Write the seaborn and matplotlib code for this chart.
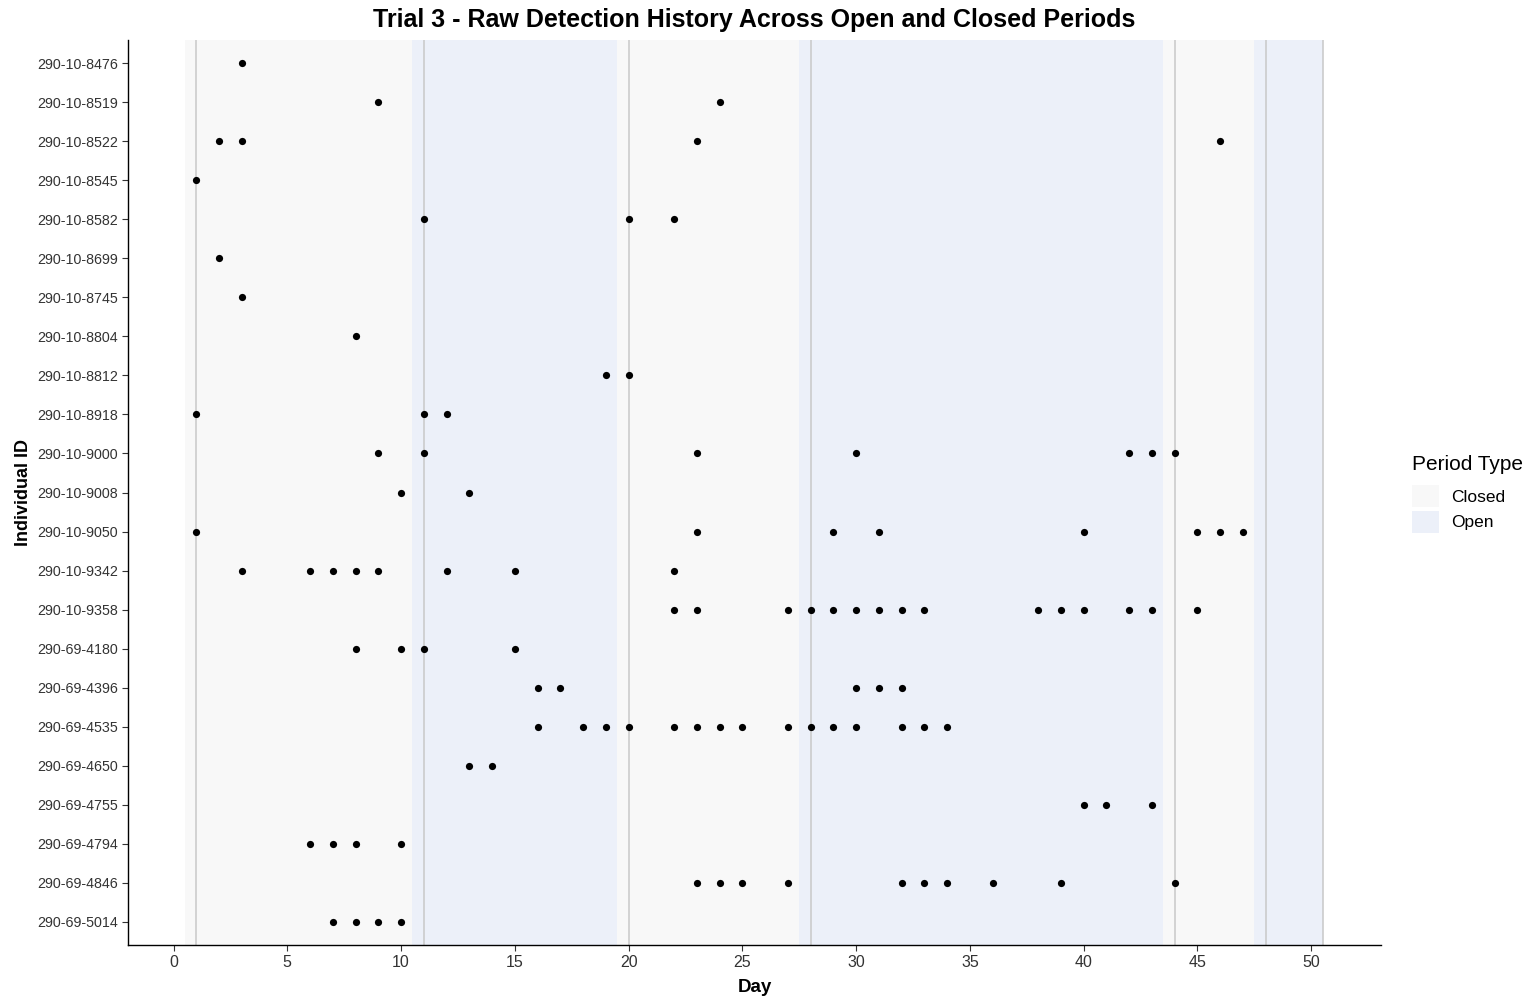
import numpy as np
import pandas as pd
import matplotlib
matplotlib.use("Agg")
import matplotlib.pyplot as plt
from matplotlib.patches import Patch
import seaborn as sns

# individuals, top to bottom
ids = ["290-10-8476", "290-10-8519", "290-10-8522", "290-10-8545", "290-10-8582",
       "290-10-8699", "290-10-8745", "290-10-8804", "290-10-8812", "290-10-8918",
       "290-10-9000", "290-10-9008", "290-10-9050", "290-10-9342", "290-10-9358",
       "290-69-4180", "290-69-4396", "290-69-4535", "290-69-4650", "290-69-4755",
       "290-69-4794", "290-69-4846", "290-69-5014"]

# detection days for each individual
days = [
    [3],
    [9, 24],
    [2, 3, 23, 46],
    [1],
    [11, 20, 22],
    [2],
    [3],
    [8],
    [19, 20],
    [1, 11, 12],
    [9, 11, 23, 30, 42, 43, 44],
    [10, 13],
    [1, 23, 29, 31, 40, 45, 46, 47],
    [3, 6, 7, 8, 9, 12, 15, 22],
    [22, 23, 27, 28, 29, 30, 31, 32, 33, 38, 39, 40, 42, 43, 45],
    [8, 10, 11, 15],
    [16, 17, 30, 31, 32],
    [16, 18, 19, 20, 22, 23, 24, 25, 27, 28, 29, 30, 32, 33, 34],
    [13, 14],
    [40, 41, 43],
    [6, 7, 8, 10],
    [23, 24, 25, 27, 32, 33, 34, 36, 39, 44],
    [7, 8, 9, 10],
]

# periods
period_type = ["Closed", "Open", "Closed", "Open", "Closed", "Open"]
period_start = [0.5, 10.5, 19.5, 27.5, 43.5, 47.5]
period_end = [10.5, 19.5, 27.5, 43.5, 47.5, 50.5]
period_lines = [1, 11, 20, 28, 44, 48, 50.5]

colors = {"Closed": "#f8f8f8", "Open": "#ecf0f9"}

rows = []
for i, d in zip(ids, days):
    for x in d:
        rows.append({"id": i, "day": x})
df = pd.DataFrame(rows)

sns.set_style("white")
plt.rcParams["font.family"] = ["Liberation Sans", "DejaVu Sans"]
plt.rcParams["text.color"] = "black"
plt.rcParams["axes.labelcolor"] = "black"

fig = plt.figure(figsize=(15.28, 9.98), dpi=100)
ax = fig.add_axes([128 / 1528, 1 - 945 / 998, (1381 - 128) / 1528, (945 - 40) / 998])

for t, s, e in zip(period_type, period_start, period_end):
    ax.axvspan(s, e, color=colors[t], lw=0, zorder=0)
for v in period_lines:
    ax.axvline(v, color="#c8c8c8", lw=1.1, zorder=1)

sns.stripplot(data=df, x="day", y="id", order=ids, orient="h", jitter=False,
              color="black", size=5.2, linewidth=0, ax=ax, zorder=3)

ax.set_xlim(-2.0, 53.07)
ax.set_ylim(len(ids) - 1 + 0.6, -0.6)
ax.set_xticks(np.arange(0, 51, 5))
ax.tick_params(axis="both", direction="out", length=4, width=0.8, color="#333333",
               bottom=True, left=True, pad=3)
ax.tick_params(axis="x", labelsize=11.5, labelcolor="#333333")
ax.tick_params(axis="y", labelsize=10.3, labelcolor="#333333")
ax.grid(False)
sns.despine(ax=ax)
for sp in ["left", "bottom"]:
    ax.spines[sp].set_color("black")
    ax.spines[sp].set_linewidth(1.0)

ax.set_xlabel("Day", fontsize=13.5, fontweight="bold", labelpad=7, color="black")
ax.set_ylabel("Individual ID", fontsize=13, fontweight="bold", labelpad=4, color="black")
ax.set_title("Trial 3 - Raw Detection History Across Open and Closed Periods",
             fontsize=18, fontweight="bold", pad=9, color="black")

handles = [Patch(facecolor=colors[t], edgecolor="none", label=t) for t in ["Closed", "Open"]]
leg = fig.legend(handles=handles, title="Period Type", loc="upper left",
                 bbox_to_anchor=(1403 / 1528, 1 - 446 / 998), frameon=False,
                 fontsize=12.5, title_fontsize=15, handlelength=1.6, handleheight=1.6,
                 handletextpad=0.7, labelspacing=0.2, borderaxespad=0, borderpad=0.5)
leg._legend_box.align = "left"
leg._legend_box.sep = 8

fig.savefig("out.png", dpi=100, facecolor="white")
